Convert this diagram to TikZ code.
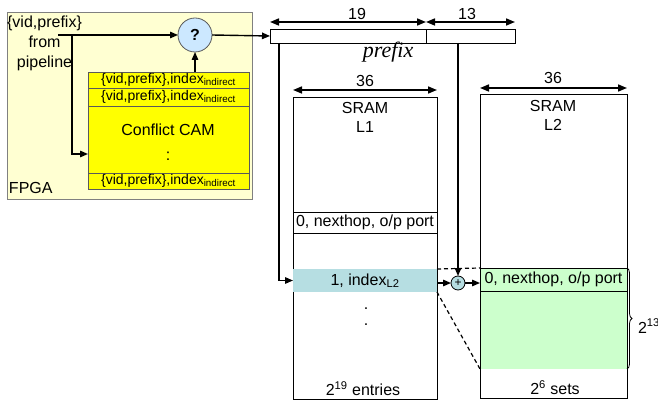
\documentclass[tikz,border=0pt]{standalone}
\usepackage{fontspec}
\setmainfont{Liberation Sans}
\newfontfamily\timesfont{Liberation Serif}
\usetikzlibrary{arrows.meta,decorations.pathreplacing}
\definecolor{fpgafill}{RGB}{255,255,210}
\definecolor{camyellow}{RGB}{255,255,0}
\definecolor{qblue}{RGB}{204,232,255}
\definecolor{idxteal}{RGB}{182,222,226}
\definecolor{l2green}{RGB}{204,255,204}
\definecolor{edgegray}{RGB}{90,90,90}
\begin{document}
\begin{tikzpicture}[x=1pt,y=-1pt,
  every node/.style={inner sep=0pt,outer sep=0pt,font=\fontsize{16}{19}\selectfont},
  boxnw/.style={draw=edgegray,line width=0.8pt,anchor=north west,rectangle},
  rowtxt/.style={font=\fontsize{14}{16}\selectfont},
  arr/.style={line width=1.4pt,-{Triangle[length=8pt,width=6.5pt]}},
  dim/.style={line width=1.6pt,{Triangle[length=9pt,width=7pt]}-{Triangle[length=9pt,width=7pt]}},
  dashline/.style={line width=1.2pt,dashed,dash pattern=on 4pt off 3pt}]
\useasboundingbox (0,0) rectangle (658,403);

% FPGA block
\node[boxnw,draw=gray,fill=fpgafill,minimum width=245pt,minimum height=187pt] (fpga) at (7,12) {};
\node[anchor=west] (fpgalbl) at (9,188) {FPGA};
\node[align=center,font=\fontsize{16}{20}\selectfont] (src) at (44.5,43) {\{vid,prefix\}\\from\\pipeline};

\node[boxnw,draw=edgegray,fill=camyellow,minimum width=161pt,minimum height=16pt] (cam1) at (88,72) {};
\node[boxnw,draw=edgegray,fill=camyellow,minimum width=161pt,minimum height=18pt] (cam2) at (88,88) {};
\node[boxnw,draw=edgegray,fill=camyellow,minimum width=161pt,minimum height=67pt] (cammid) at (88,106) {};
\node[boxnw,draw=edgegray,fill=camyellow,minimum width=161pt,minimum height=16pt] (cam3) at (88,173) {};
\node[rowtxt] (cam1t) at (cam1.center) {\{vid,prefix\},index\textsubscript{indirect}};
\node[rowtxt] (cam2t) at (cam2.center) {\{vid,prefix\},index\textsubscript{indirect}};
\node[rowtxt] (cam3t) at (cam3.center) {\{vid,prefix\},index\textsubscript{indirect}};
\node (camlbl) at (168,130) {Conflict CAM};
\node (camdots) at (168,156) {:};

\node[circle,draw=edgegray,line width=0.8pt,fill=qblue,minimum size=34pt,font=\fontsize{16}{19}\selectfont\bfseries] (q) at (195,35) {?};

% prefix register
\node[boxnw,draw=black,minimum width=156pt,minimum height=14pt] (reg19) at (270,29) {};
\node[boxnw,draw=black,minimum width=89pt,minimum height=14pt] (reg13) at (426,29) {};
\draw[dim] (reg19.west |- 0,22) -- (reg19.east |- 0,22);
\draw[dim] (reg13.west |- 0,22) -- (reg13.east |- 0,22);
\node (n19) at (357,14) {19};
\node (n13) at (467,14) {13};
\node[font=\fontsize{22}{26}\timesfont\itshape] (pfx) at (388,52) {prefix};

% SRAM L1
\node[boxnw,draw=black,minimum width=144pt,minimum height=302pt] (l1) at (293,97) {};
\node[boxnw,draw=black,minimum width=144pt,minimum height=21pt] (l1row) at (293,212) {};
\node (l1rowt) at (l1row.center) {0, nexthop, o/p port};
\node[anchor=north west,fill=idxteal,minimum width=144pt,minimum height=23pt] (idx) at (293,269) {};
\node (idxt) at (idx.center) {1, index\textsubscript{L2}};
\draw[dim] (l1.north west) ++(0,-7) coordinate (d1a) -- (l1.north east |- d1a);
\node (l1w) at (365,81) {36};
\node (l1s) at (365,108) {SRAM};
\node (l1n) at (365,127) {L1};
\node[align=center,font=\fontsize{16}{16}\selectfont] (l1dots) at (366,317) {.\\.};
\node (l1e) at (363,389) {2\textsuperscript{19} entries};

% SRAM L2
\node[boxnw,draw=black,minimum width=147pt,minimum height=304pt] (l2) at (480,94) {};
\node[anchor=north west,fill=l2green,minimum width=147pt,minimum height=101pt] (green) at (480,268) {};
\node[boxnw,draw=black,fill=l2green,minimum width=147pt,minimum height=23pt] (l2row) at (480,268) {};
\node (l2rowt) at (l2row.center) {0, nexthop, o/p port};
\draw[line width=0.8pt] (l2.north west) rectangle (l2.south east);
\draw[dim] (l2.north west) ++(0,-6) coordinate (d2a) -- (l2.north east |- d2a);
\node (l2w) at (553,78) {36};
\node (l2s) at (553,106) {SRAM};
\node (l2n) at (553,125) {L2};
\node (l2e) at (555,388) {2\textsuperscript{6} sets};
\draw[line width=0.8pt,decorate,decoration={brace,amplitude=5pt}] (green.north east) -- (green.south east);
\node[anchor=west] (n213) at (638,326) {2\textsuperscript{13}};

\node[circle,draw=black,line width=0.8pt,fill=idxteal,minimum size=14pt,font=\fontsize{12}{12}\selectfont] (plus) at (458,283) {+};

% connectors
\coordinate (srcend) at (58,35);
\coordinate (branch) at (72,35);
\coordinate (camin) at (88,154);
\draw[arr] (srcend) -- (q.west);
\draw[arr] (branch) |- (camin);
\draw[arr] (q.south |- cam1.north) -- (q.south);
\draw[arr] (q.east) -- (reg19.west);
\coordinate (regdown) at (279,43);
\draw[arr] (regdown) |- (idx.west);
\draw[arr] (plus.north |- reg13.south) -- (plus.north);
\draw[arr] (idx.east |- plus.west) -- (plus.west);
\draw[arr] (plus.east) -- (l2row.west |- plus.east);
\draw[dashline] (idx.north east) -- (green.north west);
\draw[dashline] (idx.south east) -- (green.south west);
\end{tikzpicture}
\end{document}
